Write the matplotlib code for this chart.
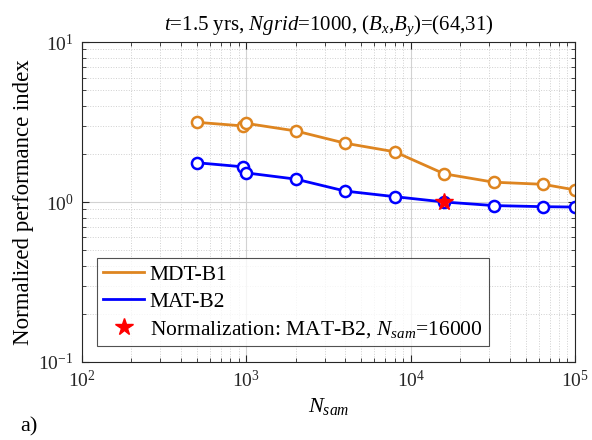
import matplotlib.pyplot as plt
from matplotlib.lines import Line2D
from matplotlib.ticker import LogLocator, NullFormatter

plt.rcParams['font.family'] = ['Liberation Serif', 'DejaVu Serif']
plt.rcParams['mathtext.fontset'] = 'custom'
plt.rcParams['mathtext.rm'] = 'Liberation Serif'
plt.rcParams['mathtext.it'] = 'Liberation Serif:italic'

# data
n_sam = [500, 950, 1000, 2000, 4000, 8000, 16000, 32000, 64000, 100000]
mdt_b1 = [3.15, 2.99, 3.1, 2.78, 2.33, 2.06, 1.50, 1.33, 1.29, 1.19]
mat_b2 = [1.76, 1.66, 1.52, 1.39, 1.17, 1.08, 1.0, 0.95, 0.935, 0.93]
norm_n = [16000]
norm_v = [1.0]

orange = '#DE8520'
blue = '#0000FF'

fig = plt.figure(figsize=(5.92, 4.40), dpi=100)
ax = fig.add_axes([0.1385, 0.1773, 0.8328, 0.7272])

ax.plot(n_sam, mdt_b1, '-o', color=orange, lw=2, ms=8, mfc='white', mew=1.8)
ax.plot(n_sam, mat_b2, '-o', color=blue, lw=2, ms=8, mfc='white', mew=1.8)
ax.plot(norm_n, norm_v, '*', color='red', ms=13, mec='red')

ax.set_xscale('log')
ax.set_yscale('log')
ax.set_xlim(1e2, 1e5)
ax.set_ylim(1e-1, 1e1)

ax.xaxis.set_major_locator(LogLocator(base=10, numticks=10))
ax.xaxis.set_minor_locator(LogLocator(base=10, subs=range(2, 10), numticks=20))
ax.yaxis.set_minor_locator(LogLocator(base=10, subs=range(2, 10), numticks=20))
ax.xaxis.set_minor_formatter(NullFormatter())
ax.yaxis.set_minor_formatter(NullFormatter())

ax.grid(True, which='major', color='#d2d2d2', lw=0.8)
ax.grid(True, which='minor', color='#d0d0d0', lw=0.7, ls=':')
ax.tick_params(which='both', direction='in', top=True, right=True,
               labelsize=14, colors='#262626')
ax.tick_params(which='major', length=5, pad=6)
ax.tick_params(which='minor', length=3)
for sp in ax.spines.values():
    sp.set_color('#262626')
    sp.set_linewidth(0.8)

ax.set_title('$t$=1.5 yrs, $Ngrid$=1000, ($B_x$,$B_y$)=(64,31)',
             fontsize=15, pad=9)
ax.set_xlabel('$N_{sam}$', fontsize=16, labelpad=3)
ax.set_ylabel('Normalized performance index', fontsize=16.5, labelpad=3)

# legend shows plain lines for the series, star for the reference point
handles = [
    Line2D([], [], color=orange, lw=2),
    Line2D([], [], color=blue, lw=2),
    Line2D([], [], ls='none', marker='*', color='red', ms=13),
]
labels = ['MDT-B1', 'MAT-B2', 'Normalization: MAT-B2, $N_{sam}$=16000']
leg = ax.legend(handles, labels, loc='lower left', bbox_to_anchor=(0.03, 0.05),
                fontsize=15.5, frameon=True, fancybox=False, edgecolor='#262626',
                handlelength=1.9, handletextpad=0.25, borderpad=0.3,
                labelspacing=0.32, borderaxespad=0)
leg.get_frame().set_linewidth(0.8)

fig.text(0.035, 0.02, 'a)', fontsize=16)

fig.savefig('out.png', dpi=100)
